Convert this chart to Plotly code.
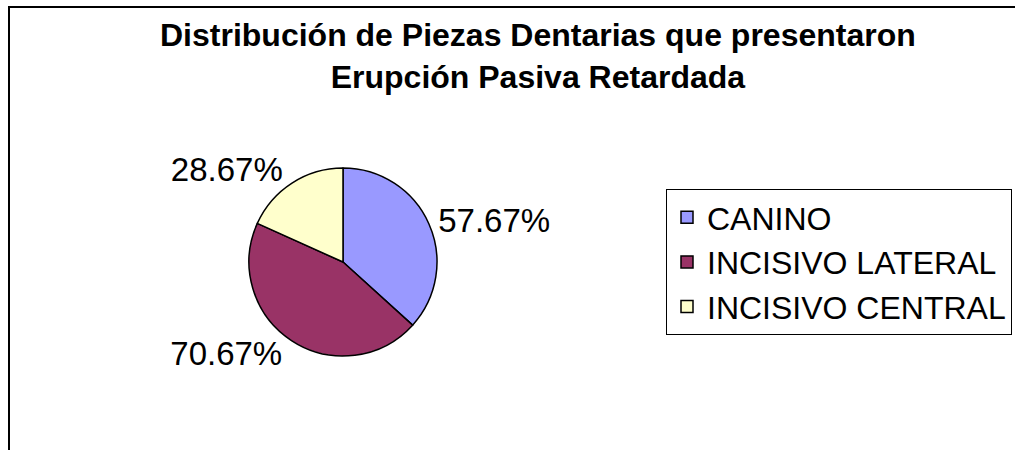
import plotly.graph_objects as go

categories = ["CANINO", "INCISIVO LATERAL", "INCISIVO CENTRAL"]
values = [57.67, 70.67, 28.67]
colors = ["#9999FF", "#993366", "#FFFFCC"]
title_text = "<b>Distribución de Piezas Dentarias que presentaron<br>Erupción Pasiva Retardada</b>"

W, H = 1015, 450
FONT = "Liberation Sans, Arial"

fig = go.Figure(go.Pie(
    labels=categories,
    values=values,
    sort=False,
    direction="clockwise",
    rotation=0,
    marker=dict(colors=colors, line=dict(color="black", width=1.5)),
    textposition="outside",
    texttemplate="%{value:.2f}%",
    textfont=dict(family=FONT, size=33, color="black"),
    domain=dict(x=[249 / W, 437 / W], y=[(H - 356) / H, (H - 168) / H]),
    hoverinfo="label+value",
    showlegend=True,
))

fig.update_layout(
    width=W, height=H,
    margin=dict(l=0, r=0, t=0, b=0, autoexpand=False),
    paper_bgcolor="white",
    plot_bgcolor="white",
    font=dict(family=FONT, color="black"),
    annotations=[dict(
        text=title_text, showarrow=False,
        xref="paper", yref="paper",
        x=538 / W, xanchor="center",
        y=1 - 15 / H, yanchor="top",
        align="center",
        font=dict(size=32, family=FONT, color="black"),
    )],
    legend=dict(
        x=666 / W, xanchor="left",
        y=1 - 189 / H, yanchor="top",
        bordercolor="black", borderwidth=1,
        bgcolor="white",
        itemwidth=30,
        font=dict(size=32, family=FONT, color="black"),
    ),
    shapes=[dict(
        type="rect", xref="paper", yref="paper",
        x0=9 / W, x1=1.05, y0=-0.05, y1=1 - 7 / H,
        line=dict(color="black", width=2),
        fillcolor="rgba(0,0,0,0)",
        layer="below",
    )],
)

fig.write_html(
    "out.html",
    config={"displayModeBar": False},
    post_script="document.body.style.margin='0';document.body.style.overflow='hidden';",
)
